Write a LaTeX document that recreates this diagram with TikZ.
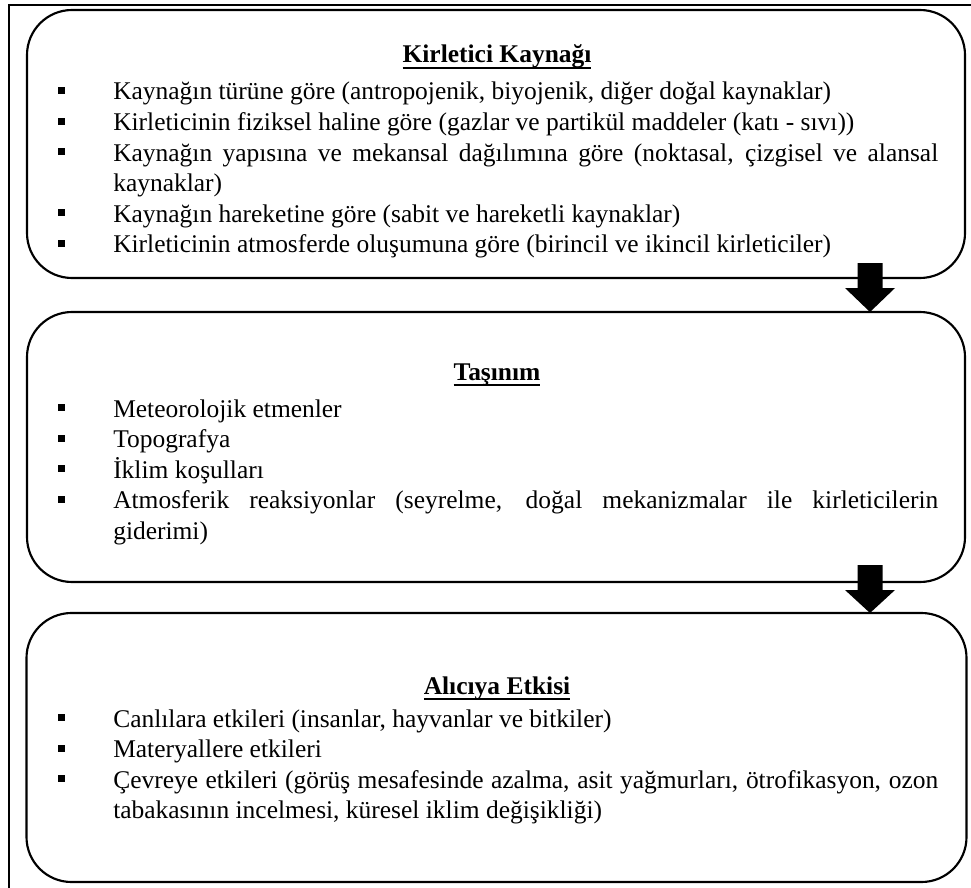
\documentclass[tikz,border=0pt]{standalone}
\usepackage{fontspec}
\setmainfont{Liberation Serif}
\usetikzlibrary{calc}
\newcommand{\titleul}[1]{\setbox0\hbox{#1}\rlap{\rule[-4.3pt]{\wd0}{1.1pt}}\box0}
\newcommand{\bitem}{\par\hangindent=41.25pt\hangafter=1\noindent\makebox[41.25pt][l]{\rule[4.5pt]{5.25pt}{5.25pt}}\ignorespaces}
\newcommand{\itemlist}[1]{\parbox[t]{660pt}{\tolerance=9999\hyphenpenalty=10000\parindent=0pt\parskip=0pt #1}}
\tikzset{
  stagebox/.style={draw, line width=1.6pt, rounded corners=33.75pt, inner sep=0pt, outer sep=0pt, minimum width=703.5pt},
  titletext/.style={anchor=base, inner sep=0pt, font=\fontsize{19.1}{22.95}\selectfont\bfseries},
  itemtext/.style={anchor=base west, inner sep=0pt, font=\fontsize{19.1}{22.95}\selectfont},
  flowarrow/.style={fill=black},
  frameline/.style={draw, line width=1.2pt}
}
\begin{document}
\begin{tikzpicture}[x=0.75pt,y=-0.75pt]
\clip (0,0) rectangle (971,888);
\draw[frameline] (9,5) rectangle (995,905);

\node[stagebox, minimum height=201pt] (b1) at (496,144) {};
\node[stagebox, minimum height=202.5pt] (b2) at (496,447) {};
\node[stagebox, minimum height=201.75pt, minimum width=705pt] (b3) at (496.5,747.5) {};

\node[titletext] (t1) at (497,63) {\titleul{Kirletici Kaynağı}};
\node[itemtext] (i1) at (58,100) {\itemlist{%
\bitem Kaynağın türüne göre (antropojenik, biyojenik, diğer doğal kaynaklar)
\bitem Kirleticinin fiziksel haline göre (gazlar ve partikül maddeler (katı - sıvı))
\bitem Kaynağın yapısına ve mekansal dağılımına göre (noktasal, çizgisel ve alansal\linebreak kaynaklar)
\bitem Kaynağın hareketine göre (sabit ve hareketli kaynaklar)
\bitem Kirleticinin atmosferde oluşumuna göre (birincil ve ikincil kirleticiler)}};

\node[titletext] (t2) at (497,380) {\titleul{Taşınım}};
\node[itemtext] (i2) at (58,417) {\itemlist{%
\bitem Meteorolojik etmenler
\bitem Topografya
\bitem İklim koşulları
\bitem Atmosferik reaksiyonlar (seyrelme, doğal mekanizmalar ile kirleticilerin\linebreak giderimi)}};

\node[titletext] (t3) at (497,694) {\titleul{Alıcıya Etkisi}};
\node[itemtext] (i3) at (58,727) {\itemlist{%
\bitem Canlılara etkileri (insanlar, hayvanlar ve bitkiler)
\bitem Materyallere etkileri
\bitem Çevreye etkileri (görüş mesafesinde azalma, asit yağmurları, ötrofikasyon, ozon\linebreak tabakasının incelmesi, küresel iklim değişikliği)}};

\coordinate (ax) at (870,0);
\fill[flowarrow] ($(b1.south -| ax)+(-12.5,-15)$) -- ++(25,0) -- ++(0,25) -- ++(12.5,0)
  -- (b2.north -| ax) -- ++(-25,-24) -- ++(12.5,0) -- cycle;
\fill[flowarrow] ($(b2.south -| ax)+(-12.5,-17)$) -- ++(25,0) -- ++(0,25) -- ++(12.5,0)
  -- (b3.north -| ax) -- ++(-25,-23) -- ++(12.5,0) -- cycle;
\end{tikzpicture}
\end{document}
